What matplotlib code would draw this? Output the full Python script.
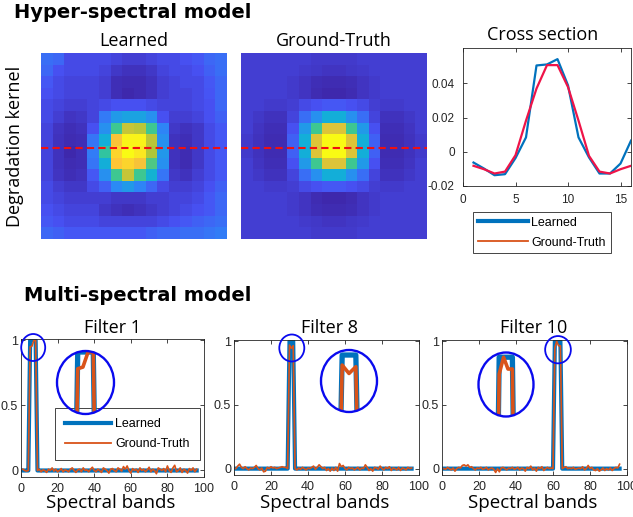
import matplotlib.pyplot as plt
import numpy as np
from matplotlib.colors import LinearSegmentedColormap
from matplotlib.patches import Ellipse

plt.rcParams["font.family"] = ["Liberation Sans", "DejaVu Sans"]
plt.rcParams["axes.unicode_minus"] = False

W, H = 633, 517
BLUE = "#0072BD"
ORANGE = "#D95319"
CROSS_RED = "#EE1448"
RING = "#0A0AEE"
INK = "#262626"

# ---- Hyper-spectral kernels (16x16, colour level 0..100) ----
kernel_learned = [
    [22, 20, 12, 12, 12, 12, 10, 8, 8, 10, 12, 12, 14, 16, 20, 22],
    [20, 14, 12, 12, 12, 10, 6, 4, 4, 6, 10, 12, 12, 14, 18, 22],
    [16, 12, 10, 10, 10, 8, 3, 2, 2, 4, 8, 10, 12, 12, 16, 20],
    [14, 12, 10, 10, 10, 8, 3, 1, 2, 4, 8, 10, 10, 12, 15, 20],
    [12, 10, 8, 8, 10, 12, 14, 14, 14, 12, 10, 10, 10, 12, 14, 20],
    [12, 8, 5, 6, 10, 25, 35, 38, 38, 32, 14, 8, 8, 10, 14, 18],
    [10, 5, 3, 4, 14, 32, 58, 76, 74, 58, 28, 6, 4, 6, 12, 16],
    [10, 4, 2, 3, 24, 42, 85, 98, 98, 74, 32, 4, 3, 6, 12, 16],
    [10, 4, 1, 3, 26, 55, 90, 100, 95, 72, 34, 4, 2, 6, 12, 16],
    [10, 4, 2, 3, 24, 42, 86, 90, 84, 60, 32, 4, 2, 6, 12, 16],
    [10, 5, 3, 4, 16, 32, 58, 76, 58, 44, 24, 6, 4, 8, 12, 16],
    [12, 8, 6, 6, 12, 18, 30, 35, 28, 20, 12, 8, 8, 10, 14, 18],
    [12, 10, 8, 8, 8, 8, 6, 6, 6, 8, 8, 10, 10, 12, 16, 20],
    [14, 12, 10, 10, 10, 6, 4, 3, 4, 6, 8, 10, 12, 14, 16, 20],
    [16, 14, 12, 12, 12, 10, 10, 10, 10, 10, 12, 14, 16, 18, 20, 22],
    [20, 18, 16, 16, 16, 16, 16, 16, 16, 18, 20, 20, 22, 22, 24, 26],
]
kernel_truth = [
    [8, 8, 8, 8, 8, 8, 7, 7, 7, 7, 8, 8, 8, 8, 8, 8],
    [8, 8, 8, 8, 8, 7, 6, 5, 5, 6, 7, 8, 8, 8, 8, 8],
    [8, 8, 8, 8, 7, 5, 3, 2, 2, 3, 5, 7, 8, 8, 8, 8],
    [8, 8, 8, 8, 7, 5, 2, 1, 1, 2, 5, 7, 8, 8, 8, 8],
    [8, 8, 7, 7, 8, 12, 14, 16, 16, 14, 12, 8, 7, 7, 8, 8],
    [8, 6, 4, 4, 10, 22, 32, 42, 42, 32, 22, 10, 4, 4, 6, 8],
    [8, 5, 3, 3, 14, 35, 58, 80, 80, 58, 35, 14, 3, 3, 5, 8],
    [7, 4, 2, 2, 18, 42, 80, 100, 100, 80, 42, 18, 2, 2, 4, 7],
    [7, 4, 2, 2, 18, 42, 80, 100, 100, 80, 42, 18, 2, 2, 4, 7],
    [8, 5, 3, 3, 14, 35, 58, 80, 80, 58, 35, 14, 3, 3, 5, 8],
    [8, 6, 4, 4, 10, 22, 32, 42, 42, 32, 22, 10, 4, 4, 6, 8],
    [8, 8, 7, 7, 8, 12, 14, 16, 16, 14, 12, 8, 7, 7, 8, 8],
    [8, 8, 8, 8, 7, 5, 2, 1, 1, 2, 5, 7, 8, 8, 8, 8],
    [8, 8, 8, 8, 7, 5, 3, 2, 2, 3, 5, 7, 8, 8, 8, 8],
    [8, 8, 8, 8, 8, 7, 6, 5, 5, 6, 7, 8, 8, 8, 8, 8],
    [8, 8, 8, 8, 8, 8, 7, 7, 7, 7, 8, 8, 8, 8, 8, 8],
]
cross_row = 7.7

# ---- Cross section ----
cross_x = list(range(1, 17))
cross_learned = [-0.0063, -0.0098, -0.0137, -0.0131, -0.0037, 0.0084, 0.0504, 0.0510,
                 0.0541, 0.0388, 0.0084, -0.0033, -0.0127, -0.0127, -0.0069, 0.0065]
cross_truth = [-0.0082, -0.0102, -0.0127, -0.0116, -0.0020, 0.0182, 0.0369, 0.0506,
               0.0506, 0.0378, 0.0182, -0.0024, -0.0116, -0.0127, -0.0102, -0.0082]

# ---- Multi-spectral filters (96 bands) ----
filter_names = ["Filter 1", "Filter 8", "Filter 10"]
learned_plateau = [(5, 8), (30, 32), (61, 64)]   # first/last band at 1
truth_f1 = [0.01, 0.0, -0.005, 0.0, 0.95, 0.955, 1.0, 1.0, 0.0, 0.01,
            -0.01, 0.005, 0.0, -0.015, 0.01, 0.0, 0.02, -0.005, 0.01, -0.01,
            0.0, 0.015, -0.01, 0.005, 0.0, -0.01, 0.01, 0.02, 0.0, -0.015,
            0.005, 0.01, -0.01, 0.02, 0.0, 0.005, -0.01, 0.01, 0.025, 0.0,
            -0.01, 0.01, 0.0, -0.015, 0.02, 0.01, 0.0, -0.02, 0.01, 0.015,
            0.0, -0.01, 0.02, 0.01, -0.005, 0.03, 0.01, 0.035, 0.0, -0.02,
            0.015, 0.0, 0.01, -0.015, 0.02, 0.0, 0.01, -0.01, 0.005, 0.025,
            -0.01, 0.01, 0.0, -0.025, 0.02, 0.01, 0.0, 0.015, -0.01, 0.035,
            0.0, -0.015, 0.02, 0.04, -0.01, 0.0, 0.02, -0.015, 0.01, 0.0,
            -0.02, 0.015, 0.0, 0.02, -0.01, 0.01]
truth_f8 = [0.0, 0.02, 0.035, 0.01, 0.0, 0.015, 0.0, -0.01, 0.005, 0.0,
            0.01, 0.025, 0.0, -0.01, 0.005, -0.025, -0.02, 0.01, 0.0, 0.015,
            0.005, 0.01, 0.0, 0.005, 0.01, 0.015, 0.01, 0.01, 0.0, 0.97,
            0.945, 0.965, 0.0, -0.01, 0.005, -0.005, 0.01, 0.0, -0.01, 0.005,
            0.0, 0.01, 0.02, -0.005, 0.01, 0.03, 0.015, 0.0, 0.01, -0.015,
            0.0, -0.02, 0.005, -0.015, 0.01, -0.02, 0.04, 0.015, 0.025, 0.0,
            -0.01, 0.01, 0.0, 0.005, -0.01, 0.0, 0.01, -0.01, 0.005, 0.0,
            0.03, 0.01, -0.015, 0.0, -0.02, 0.01, 0.005, -0.005, 0.02, 0.0,
            -0.01, 0.01, 0.0, 0.015, -0.015, 0.005, 0.0, -0.01, 0.01, -0.015,
            0.005, 0.0, -0.01, 0.01, 0.0, 0.005]
truth_f10 = [0.0, -0.005, 0.01, 0.0, -0.01, 0.005, -0.02, 0.0, 0.01, 0.005,
             0.025, 0.03, 0.02, 0.03, 0.01, 0.015, 0.0, -0.01, 0.005, 0.0,
             0.01, -0.005, 0.0, 0.01, -0.01, 0.0, 0.005, -0.005, -0.03, 0.0,
             -0.025, 0.005, 0.01, 0.0, -0.01, 0.005, 0.0, 0.01, -0.005, 0.0,
             0.01, -0.01, 0.005, 0.0, -0.02, 0.01, 0.0, 0.02, -0.01, 0.005,
             -0.02, 0.01, 0.0, 0.015, -0.015, 0.0, 0.01, 0.0, 0.005, 0.0,
             0.95, 1.0, 0.965, 0.965, 0.0, 0.01, 0.015, 0.0, 0.005, 0.0,
             0.01, -0.005, 0.0, 0.005, 0.0, 0.015, -0.01, 0.0, 0.025, 0.0,
             0.01, -0.01, -0.015, 0.0, -0.02, -0.01, 0.005, -0.015, 0.0, -0.01,
             0.005, -0.015, 0.0, 0.01, 0.005, 0.035]
truths = [truth_f1, truth_f8, truth_f10]
inset_xlim = [(1, 12), (26.9, 35.1), (56.3, 68.8)]
inset_ylim = [(0.815, 1.003), (0.83, 1.015), (0.824, 1.014)]

parula = LinearSegmentedColormap.from_list("parula", [
    (0.2422, 0.1504, 0.6603), (0.2810, 0.3228, 0.9579), (0.1786, 0.5289, 0.9682),
    (0.0689, 0.6948, 0.8394), (0.2161, 0.7843, 0.5923), (0.6720, 0.7793, 0.2227),
    (0.9970, 0.7659, 0.2199), (0.9769, 0.9839, 0.0805)])

fig = plt.figure(figsize=(W / 100, H / 100), dpi=100)


def px_axes(x0, y0, x1, y1):
    return fig.add_axes([x0 / W, 1 - y1 / H, (x1 - x0) / W, (y1 - y0) / H])


def px_text(x, y, s, **kw):
    fig.text(x / W, 1 - y / H, s, **kw)


def px_ellipse(cx, cy, w, h, lw):
    fig.add_artist(Ellipse((cx / W, 1 - cy / H), w / W, h / H, transform=fig.transFigure,
                           fill=False, ec=RING, lw=lw))


def matlab_box(ax, xpad, ypad):
    for s in ax.spines.values():
        s.set_linewidth(0.6)
        s.set_color(INK)
    ax.tick_params(direction="in", length=3, width=0.6, top=True, right=True,
                   colors=INK, labelsize=9)
    ax.tick_params(axis="x", pad=xpad)
    ax.tick_params(axis="y", pad=ypad)


# titles
px_text(14, 3, "Hyper-spectral model", family="DejaVu Sans", weight="bold",
        fontsize=14, va="top")
px_text(24, 286, "Multi-spectral model", family="DejaVu Sans", weight="bold",
        fontsize=14, va="top")

# kernel images
for (x0, x1), kern, name in [((41, 227), kernel_learned, "Learned"),
                             ((241, 427), kernel_truth, "Ground-Truth")]:
    ax = px_axes(x0, 53, x1, 239)
    ax.imshow(np.array(kern), cmap=parula, vmin=0, vmax=100,
              interpolation="nearest", aspect="auto")
    ax.axhline(cross_row, color="#F01010", lw=1.5, linestyle=(0, (3.5, 2)))
    ax.axis("off")
    px_text((x0 + x1) / 2, 46, name, family="Open Sans", fontsize=13,
            ha="center", va="baseline")
px_text(15, 146, "Degradation kernel", family="Open Sans", fontsize=13,
        rotation=90, ha="center", va="center")

# cross section
ax = px_axes(463, 48, 631, 186)
ax.plot(cross_x, cross_learned, color=BLUE, lw=1.6)
ax.plot(cross_x, cross_truth, color=CROSS_RED, lw=1.6)
ax.set_xlim(0, 16)
ax.set_ylim(-0.02, 0.0606)
ax.set_xticks([0, 5, 10, 15])
ax.set_yticks([-0.02, 0, 0.02, 0.04])
ax.set_yticklabels(["-0.02", "0", "0.02", "0.04"])
matlab_box(ax, 6, 6)
ax.tick_params(labelsize=8.5)
px_text(543, 40, "Cross section", family="Open Sans", fontsize=13,
        ha="center", va="baseline")
h1, = ax.plot([], [], color=BLUE, lw=3)
h2, = ax.plot([], [], color=ORANGE, lw=1.3)
leg = ax.legend([h1, h2], ["Learned", "Ground-Truth"], loc="upper left",
                bbox_to_anchor=(473 / W, 1 - 212 / H), bbox_transform=fig.transFigure,
                borderaxespad=0, fontsize=9, handlelength=4, handletextpad=0.3,
                labelspacing=0.65, borderpad=0.37, fancybox=False, framealpha=1)
leg.get_frame().set_edgecolor(INK)
leg.get_frame().set_linewidth(0.6)

# filters
bands = np.arange(1, 97)
frames = [(21, 339, 204, 477), (234, 340, 419, 475), (442, 340, 627, 475)]
title_x = [113, 329, 534]
small_rings = [(33.2, 347.5, 24, 27), (291.8, 348, 25, 27), (558, 349.7, 25.7, 27.3)]
big_rings = [(85.5, 382.5, 57, 63), (349, 381, 56, 62), (506, 384.5, 55, 64)]

for i in range(3):
    x0, y0, x1, y1 = frames[i]
    learned = np.zeros(len(bands))
    lo, hi = learned_plateau[i]
    learned[(bands >= lo) & (bands <= hi)] = 1.0
    truth = truths[i]

    ax = px_axes(x0, y0, x1, y1)
    ax.plot(bands, learned, color=BLUE, lw=3)
    ax.plot(bands, truth, color=ORANGE, lw=1.2)
    ax.set_xlim(0, 100)
    ax.set_ylim(-0.05, 1.01)
    ax.set_xticks([0, 20, 40, 60, 80, 100])
    ax.set_yticks([0, 0.5, 1])
    ax.set_yticklabels(["0", "0.5", "1"])
    matlab_box(ax, 4.5, 2)
    px_text(title_x[i], 333, filter_names[i], family="Open Sans", fontsize=13,
            ha="center", va="baseline")
    px_text((x0 + x1) / 2 - 2, 508, "Spectral bands", family="Open Sans",
            fontsize=13.5, ha="center", va="baseline")

    if i == 0:
        lh1, = ax.plot([], [], color=BLUE, lw=3)
        lh2, = ax.plot([], [], color=ORANGE, lw=1.3)
        leg = ax.legend([lh1, lh2], ["Learned", "Ground-Truth"], loc="upper left",
                        bbox_to_anchor=(55 / W, 1 - 408 / H),
                        bbox_transform=fig.transFigure, borderaxespad=0, fontsize=9,
                        handlelength=3.7, handletextpad=0.3, labelspacing=0.65,
                        borderpad=0.8, fancybox=False, framealpha=1)
        leg.get_frame().set_edgecolor(INK)
        leg.get_frame().set_linewidth(0.6)

    # zoomed inset inside the ellipse
    cx, cy, w, h = big_rings[i]
    axi = px_axes(cx - w / 2, cy - h / 2, cx + w / 2, cy + h / 2)
    clip = Ellipse((0.5, 0.5), 1, 1, transform=axi.transAxes)
    for ys, col, lw in [(learned, BLUE, 3.8), (truth, ORANGE, 2.6)]:
        ln, = axi.plot(bands, ys, color=col, lw=lw)
        ln.set_clip_path(clip)
    axi.set_xlim(*inset_xlim[i])
    axi.set_ylim(*inset_ylim[i])
    axi.axis("off")

    px_ellipse(*small_rings[i], lw=1.3)
    px_ellipse(cx, cy, w, h, lw=1.7)

fig.savefig("out.png", dpi=100)
